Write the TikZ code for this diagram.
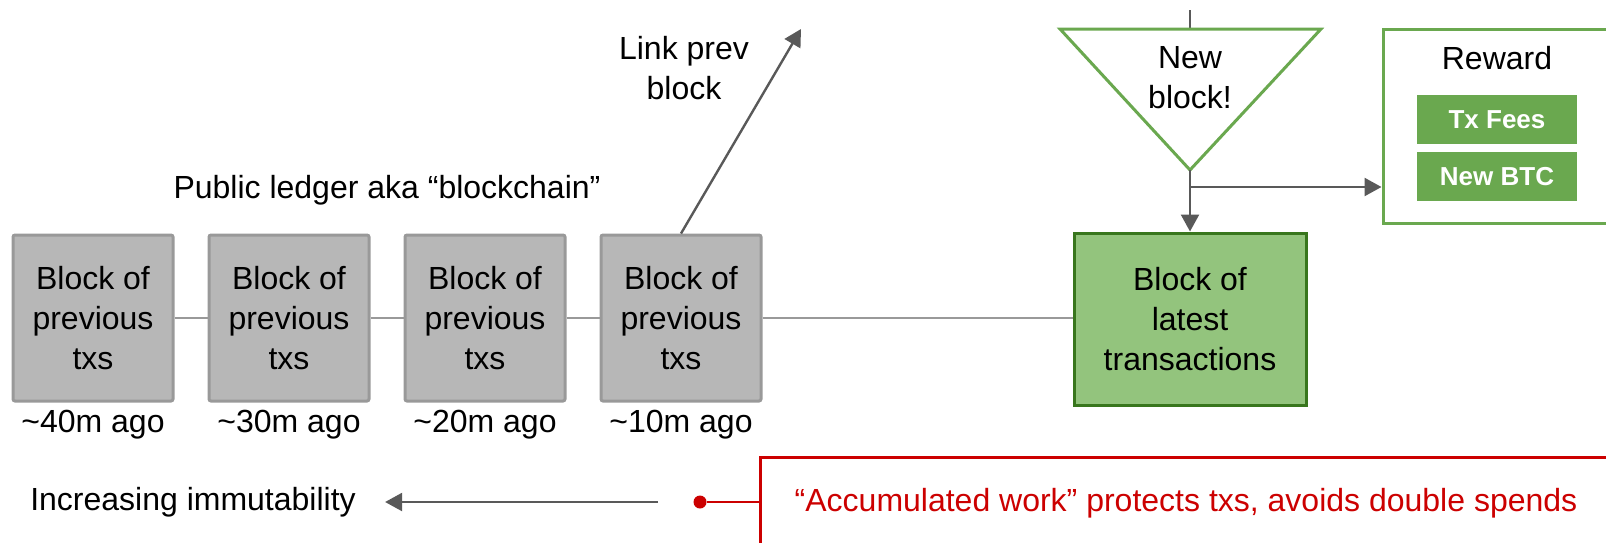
\documentclass[tikz,border=0pt]{standalone}
\usepackage{fontspec}
\setmainfont{Liberation Sans}
\usetikzlibrary{arrows.meta}
\definecolor{blockgray}{HTML}{B7B7B7}
\definecolor{blockedge}{HTML}{999999}
\definecolor{linkgray}{HTML}{595959}
\definecolor{leafgreen}{HTML}{93C47D}
\definecolor{darkgreen}{HTML}{38761D}
\definecolor{midgreen}{HTML}{6AA84F}
\definecolor{alertred}{HTML}{CC0000}

\begin{document}
\begin{tikzpicture}[x=0.5pt,y=-0.5pt,
  every node/.style={font=\fontsize{16}{20}\selectfont, inner sep=0pt, align=center},
  oldblock/.style={draw=blockedge, fill=blockgray, line width=1.5pt,
    minimum width=80pt, minimum height=83pt, rounded corners=1pt},
  newblock/.style={draw=darkgreen, fill=leafgreen, line width=1.5pt,
    minimum width=116pt, minimum height=86pt},
  rewarditem/.style={fill=midgreen, text=white, font=\fontsize{13}{15}\selectfont\bfseries,
    minimum width=80pt, minimum height=24.5pt},
  chain/.style={draw=blockedge, line width=1pt},
  flow/.style={draw=linkgray, line width=1.2pt, -{Triangle[length=8.5pt,width=9pt]}},
]
\useasboundingbox (0,0) rectangle (1606,542);
\clip (0,0) rectangle (1606,542);

% chain of earlier blocks
\node[oldblock] (b1) at (93,318)  {Block of\\previous\\txs};
\node[oldblock] (b2) at (289,318) {Block of\\previous\\txs};
\node[oldblock] (b3) at (485,318) {Block of\\previous\\txs};
\node[oldblock] (b4) at (681,318) {Block of\\previous\\txs};

\node (a1) at (93,425)  {\textasciitilde 40m ago};
\node (a2) at (289,425) {\textasciitilde 30m ago};
\node (a3) at (485,425) {\textasciitilde 20m ago};
\node (a4) at (681,425) {\textasciitilde 10m ago};

\node (ledger) at (387,190) {Public ledger aka “blockchain”};

% newest block
\node[newblock] (latest) at (1190,319) {Block of\\latest\\transactions};

\draw[chain] (b1) -- (b2);
\draw[chain] (b2) -- (b3);
\draw[chain] (b3) -- (b4);
\draw[chain] (b4.east) -- (b4.east -| latest.west);

% link to the previous block
\coordinate (linktip) at (801,29);
\node (linklbl) at (684,68) {Link prev\\block};
\draw[flow] (b4.north) -- (linktip);

% mining funnel
\coordinate (feed) at (1190,10);
\coordinate (ttop) at (1190,29);
\coordinate (tl) at (1060,29);
\coordinate (tr) at (1321,29);
\coordinate (tb) at (1190,170);
\draw[draw=linkgray, line width=1.2pt] (feed) -- (ttop);
\draw[draw=midgreen, line width=1.5pt, fill=white, line join=miter] (tl) -- (tr) -- (tb) -- cycle;
\node (nb) at (1190,78) {New\\block!};

% reward
\node[draw=midgreen, line width=1.5pt, minimum width=114pt, minimum height=97pt] (reward) at (1497,126) {};
\node (rwlbl) at (1497,58) {Reward};
\node[rewarditem] (fees) at (1497,119.5) {Tx Fees};
\node[rewarditem] (btc) at (1497,176.5) {New BTC};

\coordinate (fork) at (1190,187);
\draw[flow] (tb) -- (latest.north);
\draw[flow] (fork) -- (reward.west |- fork);

% immutability note
\node (imm) at (193,502) {Increasing immutability};
\coordinate (immstart) at (658,502);
\draw[flow] (immstart) -- ([xshift=14.5pt]imm.east);

\node[draw=alertred, line width=1.5pt, text=alertred, minimum width=425.5pt, minimum height=46pt] (work) at (1186,503) {“Accumulated work” protects txs, avoids double spends};
\node[circle, fill=alertred, minimum size=6.5pt] (dot) at (700,502) {};
\draw[draw=alertred, line width=1pt] (dot) -- (dot -| work.west);
\end{tikzpicture}
\end{document}
